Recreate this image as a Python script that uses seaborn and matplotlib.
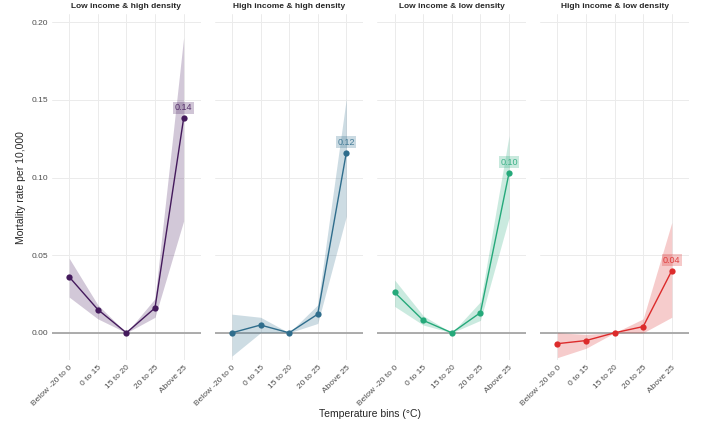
import numpy as np
import pandas as pd
import seaborn as sns
import matplotlib.pyplot as plt

#%% data
bins = ['Below -20 to 0', '0 to 15', '15 to 20', '20 to 25', 'Above 25']
groups = ['Low income & high density', 'High income & high density',
          'Low income & low density', 'High income & low density']

rate_lihd = [0.036, 0.015, 0.0, 0.016, 0.138]
lo_lihd = [0.023, 0.009, 0.0, 0.010, 0.072]
hi_lihd = [0.048, 0.018, 0.0, 0.022, 0.190]

rate_hihd = [0.0, 0.005, 0.0, 0.012, 0.116]
lo_hihd = [-0.015, 0.000, 0.0, 0.006, 0.075]
hi_hihd = [0.012, 0.010, 0.0, 0.018, 0.151]

rate_lild = [0.026, 0.008, 0.0, 0.013, 0.103]
lo_lild = [0.017, 0.005, 0.0, 0.008, 0.074]
hi_lild = [0.034, 0.011, 0.0, 0.020, 0.127]

rate_hild = [-0.007, -0.005, 0.0, 0.004, 0.040]
lo_hild = [-0.016, -0.010, 0.0, 0.000, 0.010]
hi_hild = [0.000, -0.001, 0.0, 0.009, 0.071]

labels = ['0.14', '0.12', '0.10', '0.04']
colors = ['#441a5c', '#2f6d8c', '#25a97a', '#dc2b2b']

rates = [rate_lihd, rate_hihd, rate_lild, rate_hild]
lows = [lo_lihd, lo_hihd, lo_lild, lo_hild]
highs = [hi_lihd, hi_hihd, hi_lild, hi_hild]

df = pd.concat([pd.DataFrame({'group': g, 'bin': bins, 'x': range(len(bins)),
                              'rate': r, 'lo': l, 'hi': h})
                for g, r, l, h in zip(groups, rates, lows, highs)], ignore_index=True)

#%% plot
sns.set_theme(style='whitegrid')
plt.rcParams['font.family'] = ['Liberation Sans', 'DejaVu Sans']

fig, axs = plt.subplots(1, 4, figsize=(7.03, 4.25), dpi=100, sharey=True)
fig.subplots_adjust(left=0.074, right=0.980, bottom=0.153, top=0.966, wspace=0.094)

for i, (ax, g) in enumerate(zip(axs, groups)):
    d = df[df.group == g]
    col = colors[i]
    ax.axhline(0, color='#a6a6a6', lw=1.3, zorder=1)
    ax.fill_between(d.x, d.lo, d.hi, color=col, alpha=0.24, lw=0, zorder=2)
    sns.lineplot(data=d, x='x', y='rate', ax=ax, color=col, marker='o',
                 markersize=4.5, markeredgewidth=0, lw=1, zorder=3)
    last = d.iloc[-1]
    ax.text(last.x, last.rate + 0.0068, labels[i], ha='center', va='center',
            fontsize=6.5, color=col, alpha=0.85,
            bbox=dict(boxstyle='square,pad=0.15', fc=col, ec='none', alpha=0.25))
    ax.set_title(g, fontsize=6, fontweight='bold', pad=5)
    ax.set_xlim(-0.6, 4.6)
    ax.set_ylim(-0.0175, 0.205)
    ax.set_xticks(range(len(bins)))
    ax.set_xticklabels(bins, rotation=45, ha='right', rotation_mode='anchor',
                       fontsize=6, color='#4d4d4d')
    ax.set_yticks([0, 0.05, 0.10, 0.15, 0.20])
    ax.set_yticklabels(['0.00', '0.05', '0.10', '0.15', '0.20'], fontsize=6, color='#4d4d4d')
    ax.tick_params(length=0, pad=3)
    ax.grid(color='#ebebeb', lw=0.7)
    for s in ax.spines.values():
        s.set_visible(False)
    ax.set_xlabel('')
    ax.set_ylabel('')

axs[0].set_ylabel('Mortality rate per 10,000', fontsize=7.5, labelpad=4)
fig.text(0.527, 0.018, 'Temperature bins (°C)', ha='center', fontsize=7.5)

fig.savefig('out.png', dpi=100)
